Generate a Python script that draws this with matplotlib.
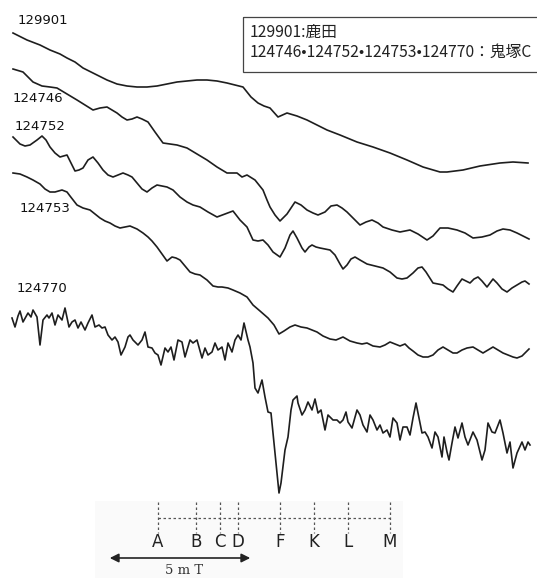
import matplotlib.pyplot as plt
from matplotlib.patches import Rectangle

# Traces (x: field position, y: signal, both in picture units, y downwards)
x_129901 = [13, 27, 40, 50, 60, 67, 75, 83, 95, 107, 117, 127, 137, 147, 157, 167, 177, 187, 197, 207,
            217, 227, 235, 243, 251, 258, 264, 270, 278, 287, 297, 307, 317, 327, 340, 357, 373, 390, 407,
            423, 440, 447, 463, 480, 500, 513, 528]
y_129901 = [33, 40, 45, 50, 54, 58, 62, 68, 74, 80, 84, 86, 87, 87, 86, 84, 82, 81, 80, 80,
            81, 83, 85, 87, 97, 103, 106, 108, 117, 113, 116, 120, 125, 130, 135, 142, 147, 153, 160,
            167, 172, 172, 170, 166, 163, 162, 163]

x_124746 = [13, 23, 33, 42, 50, 57, 67, 77, 85, 93, 100, 107, 112, 117, 122, 127, 132, 137, 142, 148,
            155, 163, 170, 177, 187, 197, 207, 217, 227, 232, 237, 242, 247, 255, 263, 267, 270, 275, 280,
            287, 295, 301, 307, 313, 318, 325, 331, 337, 342, 347, 353, 360, 366, 372, 378, 383, 392, 400,
            410, 418, 427, 433, 440, 448, 457, 465, 473, 482, 490, 497, 503, 510, 517, 523, 529]
y_124746 = [69, 72, 82, 86, 87, 88, 94, 100, 105, 110, 108, 107, 110, 113, 117, 120, 119, 117, 119, 122,
            132, 143, 144, 145, 148, 154, 160, 167, 173, 173, 173, 177, 175, 180, 190, 200, 207, 215, 221,
            214, 202, 205, 210, 213, 215, 212, 206, 205, 208, 212, 218, 225, 222, 220, 223, 227, 230, 232,
            230, 234, 240, 236, 228, 228, 230, 233, 238, 237, 235, 231, 229, 230, 233, 236, 239]

x_124752 = [13, 20, 25, 30, 37, 42, 46, 50, 55, 60, 67, 71, 75, 79, 83, 88, 93, 98, 103, 108,
            113, 118, 123, 128, 132, 137, 142, 147, 152, 157, 162, 167, 173, 180, 187, 193, 200, 208, 217,
            225, 233, 240, 247, 253, 258, 263, 268, 273, 280, 285, 290, 293, 297, 302, 305, 309, 312, 316,
            320, 325, 330, 335, 340, 343, 347, 351, 355, 360, 367, 375, 383, 390, 397, 402, 407, 413, 418,
            422, 426, 433, 438, 443, 448, 453, 457, 462, 466, 470, 474, 478, 482, 487, 490, 493, 497, 502,
            507, 512, 517, 522, 525, 529]
y_124752 = [137, 144, 146, 145, 140, 136, 140, 147, 153, 157, 155, 163, 171, 170, 168, 160, 157, 163, 170, 175,
            177, 175, 173, 175, 177, 183, 189, 192, 188, 185, 186, 187, 190, 197, 202, 205, 207, 212, 217,
            214, 211, 220, 227, 240, 241, 240, 245, 252, 257, 248, 235, 231, 238, 248, 252, 247, 245, 247,
            248, 249, 250, 255, 264, 269, 265, 259, 257, 260, 264, 266, 268, 272, 278, 279, 278, 273, 268,
            267, 272, 283, 284, 285, 289, 292, 286, 279, 281, 283, 279, 277, 281, 287, 283, 279, 283, 289,
            292, 288, 285, 282, 281, 284]

x_124753 = [13, 20, 27, 33, 40, 45, 50, 55, 62, 67, 70, 77, 83, 90, 95, 100, 105, 110, 115, 120,
            125, 130, 137, 143, 148, 152, 157, 162, 167, 172, 176, 180, 185, 190, 195, 200, 207, 213, 218,
            222, 228, 233, 240, 247, 253, 260, 268, 274, 279, 284, 290, 295, 301, 307, 312, 317, 323, 330,
            336, 343, 350, 357, 362, 367, 373, 380, 385, 390, 395, 400, 405, 409, 413, 418, 423, 428, 433,
            438, 443, 448, 453, 457, 462, 467, 473, 478, 483, 488, 493, 498, 503, 508, 513, 517, 522, 526,
            529]
y_124753 = [173, 174, 177, 180, 184, 189, 192, 192, 190, 192, 196, 205, 208, 210, 214, 218, 221, 223, 226, 228,
            227, 226, 229, 233, 237, 241, 247, 254, 261, 257, 258, 260, 266, 272, 274, 275, 280, 286, 287,
            287, 288, 290, 293, 297, 305, 311, 318, 325, 334, 331, 327, 325, 327, 328, 330, 332, 336, 339,
            340, 337, 341, 343, 344, 343, 346, 347, 345, 342, 344, 346, 344, 348, 351, 355, 357, 357, 355,
            350, 347, 350, 353, 353, 350, 348, 347, 350, 353, 350, 347, 350, 353, 355, 357, 358, 356, 352,
            349]

x_124770 = [12, 15, 18, 20, 23, 28, 31, 33, 37, 40, 43, 47, 49, 52, 55, 58, 62, 65, 69, 72,
            75, 78, 81, 85, 88, 92, 95, 99, 102, 105, 108, 112, 115, 118, 121, 125, 128, 130, 133, 135,
            138, 142, 145, 148, 152, 155, 158, 161, 165, 168, 171, 174, 178, 182, 185, 190, 193, 197, 202,
            205, 208, 212, 215, 218, 222, 225, 228, 232, 235, 238, 241, 244, 248, 250, 253, 255, 258, 262,
            265, 268, 271, 273, 277, 279, 281, 285, 288, 291, 293, 297, 298, 302, 305, 308, 312, 315, 318,
            321, 325, 328, 333, 337, 340, 343, 346, 348, 352, 357, 360, 363, 367, 370, 373, 377, 380, 383,
            387, 390, 393, 397, 400, 403, 407, 410, 413, 416, 418, 422, 425, 428, 432, 435, 438, 442, 444,
            447, 449, 452, 455, 458, 462, 465, 468, 473, 477, 482, 485, 488, 492, 495, 500, 503, 507, 510,
            513, 517, 522, 525, 528, 530]
y_124770 = [318, 327, 316, 311, 322, 313, 317, 310, 317, 345, 320, 315, 318, 313, 325, 315, 320, 308, 327, 322,
            320, 328, 322, 330, 323, 315, 327, 325, 328, 327, 335, 340, 337, 342, 355, 347, 337, 335, 340, 342,
            345, 340, 332, 347, 348, 353, 355, 365, 348, 352, 347, 360, 340, 342, 357, 340, 343, 340, 358,
            348, 355, 352, 343, 350, 347, 360, 343, 352, 340, 335, 340, 323, 340, 347, 363, 388, 393, 380,
            397, 412, 413, 433, 473, 493, 483, 450, 437, 410, 400, 396, 403, 415, 410, 402, 410, 399, 413,
            410, 430, 415, 420, 420, 423, 420, 412, 422, 428, 410, 415, 425, 432, 415, 420, 430, 425, 433,
            430, 437, 418, 423, 440, 427, 427, 435, 418, 403, 413, 433, 432, 437, 448, 432, 437, 457, 437,
            452, 460, 443, 427, 438, 423, 437, 445, 432, 440, 460, 450, 423, 432, 433, 420, 433, 453, 442,
            468, 453, 442, 450, 442, 445]

traces = [
    ('129901', x_129901, y_129901, (18, 20)),
    ('124746', x_124746, y_124746, (13, 99)),
    ('124752', x_124752, y_124752, (15, 126)),
    ('124753', x_124753, y_124753, (20, 209)),
    ('124770', x_124770, y_124770, (17, 288)),
]

# Field markers
marker_labels = ['A', 'B', 'C', 'D', 'F', 'K', 'L', 'M']
marker_x = [158, 196, 220, 238, 280, 314, 348, 390]

legend_lines = ['129901:鹿田', '124746•124752•124753•124770：鬼塚C']

fig = plt.figure(figsize=(5.37, 5.78), dpi=100)
ax = fig.add_axes([0, 0, 1, 1])
ax.set_xlim(0, 537)
ax.set_ylim(578, 0)
ax.axis('off')

line_color = '#1e1e1e'
for name, xs, ys, (lx, ly) in traces:
    ax.plot(xs, ys, color=line_color, lw=1.2, solid_joinstyle='round')
    ax.text(lx, ly, name, fontsize=9.5, va='center', ha='left', color='#111',
            family=['Liberation Sans Narrow', 'DejaVu Sans'])

# legend box
ax.add_patch(Rectangle((243, 17), 300, 55, fill=False, edgecolor='#444', lw=0.9))
ax.text(250, 33, legend_lines[0], fontsize=11.3, va='center', ha='left', color='#222',
        family=['Noto Sans CJK JP', 'DejaVu Sans'])
ax.text(250, 52, legend_lines[1], fontsize=11.3, va='center', ha='left', color='#222',
        family=['Noto Sans CJK JP', 'DejaVu Sans'])

# faint scanned paper patch under the markers
ax.add_patch(Rectangle((95, 501), 308, 80, color='#fafafa', lw=0, zorder=0))

ax.vlines(marker_x, 502, 533, colors='#555', linestyles=(0, (2, 2)), lw=0.9)
ax.hlines(518, marker_x[0], marker_x[-1], colors='#555', linestyles=(0, (2, 2)), lw=0.9)
for lab, mx in zip(marker_labels, marker_x):
    ax.text(mx, 542, lab, fontsize=12, ha='center', va='center', color='#222',
            family='DejaVu Sans')

ax.annotate('', xy=(107, 558), xytext=(253, 558),
            arrowprops=dict(arrowstyle='<|-|>', color='#222', lw=1.2, mutation_scale=13))
ax.text(184, 570, '5 m T', fontsize=9.5, ha='center', va='center', color='#333', family='DejaVu Serif')

fig.savefig('out.png', dpi=100)
